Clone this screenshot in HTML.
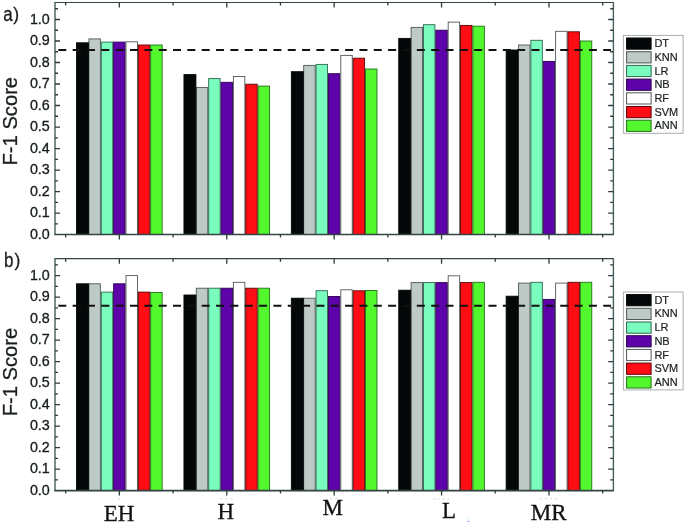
<!DOCTYPE html>
<html><head><meta charset="utf-8">
<style>
html,body{margin:0;padding:0;background:#fff;}
body{width:685px;height:524px;overflow:hidden;}
svg{display:block;will-change:transform;filter:blur(0.3px);}
text{font-family:"Liberation Sans",sans-serif;fill:#1a1f1f;}
.yl{font-size:14.3px;text-anchor:end;fill:#161c1c;stroke:#161c1c;stroke-width:0.32;}
.pl{font-size:19.5px;stroke:#1a1f1f;stroke-width:0.3;}
.pp{font-size:17.6px;stroke:#1a1f1f;stroke-width:0.3;}
.yt{font-size:20.8px;text-anchor:middle;stroke:#1a1f1f;stroke-width:0.3;}
.lg{font-size:11px;stroke:#1a1f1f;stroke-width:0.2;}
.xl{font-family:"Liberation Serif",serif;font-size:23px;text-anchor:middle;fill:#111;stroke:#111;stroke-width:0.3;}
</style></head><body>
<svg width="685" height="524" viewBox="0 0 685 524">
<rect x="88.91" y="38.9" width="11.46" height="195.65" fill="#bdcac6" stroke="#4d5856" stroke-width="0.9"/>
<rect x="101.27" y="42.1" width="11.46" height="192.45" fill="#7afcbe" stroke="#2f6650" stroke-width="0.9"/>
<rect x="113.63" y="42.1" width="11.46" height="192.45" fill="#5e02aa" stroke="#2a0250" stroke-width="0.9"/>
<rect x="125.99" y="41.8" width="11.46" height="192.75" fill="#ffffff" stroke="#4f5a58" stroke-width="0.9"/>
<rect x="138.35" y="45" width="11.46" height="189.55" fill="#fe0d14" stroke="#5a0406" stroke-width="0.9"/>
<rect x="150.71" y="45" width="11.46" height="189.55" fill="#52f72e" stroke="#237016" stroke-width="0.9"/>
<rect x="76.55" y="42.8" width="11.96" height="191.75" fill="#050808" stroke="#050808" stroke-width="0.9"/>
<rect x="196.31" y="87.4" width="11.46" height="147.15" fill="#bdcac6" stroke="#4d5856" stroke-width="0.9"/>
<rect x="208.67" y="78.6" width="11.46" height="155.95" fill="#7afcbe" stroke="#2f6650" stroke-width="0.9"/>
<rect x="221.03" y="82.3" width="11.46" height="152.25" fill="#5e02aa" stroke="#2a0250" stroke-width="0.9"/>
<rect x="233.39" y="76.5" width="11.46" height="158.05" fill="#ffffff" stroke="#4f5a58" stroke-width="0.9"/>
<rect x="245.75" y="84.2" width="11.46" height="150.35" fill="#fe0d14" stroke="#5a0406" stroke-width="0.9"/>
<rect x="258.11" y="86.1" width="11.46" height="148.45" fill="#52f72e" stroke="#237016" stroke-width="0.9"/>
<rect x="183.95" y="74.6" width="11.96" height="159.95" fill="#050808" stroke="#050808" stroke-width="0.9"/>
<rect x="303.71" y="65.4" width="11.46" height="169.15" fill="#bdcac6" stroke="#4d5856" stroke-width="0.9"/>
<rect x="316.07" y="64.4" width="11.46" height="170.15" fill="#7afcbe" stroke="#2f6650" stroke-width="0.9"/>
<rect x="328.43" y="73.7" width="11.46" height="160.85" fill="#5e02aa" stroke="#2a0250" stroke-width="0.9"/>
<rect x="340.79" y="55.4" width="11.46" height="179.15" fill="#ffffff" stroke="#4f5a58" stroke-width="0.9"/>
<rect x="353.15" y="58.2" width="11.46" height="176.35" fill="#fe0d14" stroke="#5a0406" stroke-width="0.9"/>
<rect x="365.51" y="69" width="11.46" height="165.55" fill="#52f72e" stroke="#237016" stroke-width="0.9"/>
<rect x="291.35" y="71.7" width="11.96" height="162.85" fill="#050808" stroke="#050808" stroke-width="0.9"/>
<rect x="411.11" y="27.4" width="11.46" height="207.15" fill="#bdcac6" stroke="#4d5856" stroke-width="0.9"/>
<rect x="423.47" y="24.7" width="11.46" height="209.85" fill="#7afcbe" stroke="#2f6650" stroke-width="0.9"/>
<rect x="435.83" y="30.2" width="11.46" height="204.35" fill="#5e02aa" stroke="#2a0250" stroke-width="0.9"/>
<rect x="448.19" y="22.1" width="11.46" height="212.45" fill="#ffffff" stroke="#4f5a58" stroke-width="0.9"/>
<rect x="460.55" y="25.4" width="11.46" height="209.15" fill="#fe0d14" stroke="#5a0406" stroke-width="0.9"/>
<rect x="472.91" y="26.2" width="11.46" height="208.35" fill="#52f72e" stroke="#237016" stroke-width="0.9"/>
<rect x="398.75" y="38.4" width="11.96" height="196.15" fill="#050808" stroke="#050808" stroke-width="0.9"/>
<rect x="518.51" y="45" width="11.46" height="189.55" fill="#bdcac6" stroke="#4d5856" stroke-width="0.9"/>
<rect x="530.87" y="40.3" width="11.46" height="194.25" fill="#7afcbe" stroke="#2f6650" stroke-width="0.9"/>
<rect x="543.23" y="61.4" width="11.46" height="173.15" fill="#5e02aa" stroke="#2a0250" stroke-width="0.9"/>
<rect x="555.59" y="31.3" width="11.46" height="203.25" fill="#ffffff" stroke="#4f5a58" stroke-width="0.9"/>
<rect x="567.95" y="31.8" width="11.46" height="202.75" fill="#fe0d14" stroke="#5a0406" stroke-width="0.9"/>
<rect x="580.31" y="41" width="11.46" height="193.55" fill="#52f72e" stroke="#237016" stroke-width="0.9"/>
<rect x="506.15" y="50" width="11.96" height="184.55" fill="#050808" stroke="#050808" stroke-width="0.9"/>
<line x1="58.3" y1="49.9" x2="611" y2="49.9" stroke="#111" stroke-width="2" stroke-dasharray="8 6.34"/>
<path d="M54.4 2.5H613.8" stroke="#344444" stroke-width="1.2" fill="none"/>
<path d="M54.2 234.55H614" stroke="#344444" stroke-width="1.6" fill="none"/>
<path d="M55 2.5V234.55 M613.4 2.5V234.55" stroke="#456060" stroke-width="1.4" fill="none"/>
<path d="M55 223.8h3M613.2 223.8h-3M55 213.05h5M613.2 213.05h-5M55 202.29h3M613.2 202.29h-3M55 191.54h5M613.2 191.54h-5M55 180.79h3M613.2 180.79h-3M55 170.03h5M613.2 170.03h-5M55 159.28h3M613.2 159.28h-3M55 148.53h5M613.2 148.53h-5M55 137.78h3M613.2 137.78h-3M55 127.03h5M613.2 127.03h-5M55 116.27h3M613.2 116.27h-3M55 105.52h5M613.2 105.52h-5M55 94.77h3M613.2 94.77h-3M55 84.01h5M613.2 84.01h-5M55 73.26h3M613.2 73.26h-3M55 62.51h5M613.2 62.51h-5M55 51.76h3M613.2 51.76h-3M55 41h5M613.2 41h-5M55 30.25h3M613.2 30.25h-3M55 19.5h5M613.2 19.5h-5M55 8.75h3M613.2 8.75h-3M119.36 2.5v5M119.36 234.55v5M226.76 2.5v5M226.76 234.55v5M334.16 2.5v5M334.16 234.55v5M441.56 2.5v5M441.56 234.55v5M548.96 2.5v5M548.96 234.55v5M65.66 2.5v3M65.66 234.55v3M173.06 2.5v3M173.06 234.55v3M280.46 2.5v3M280.46 234.55v3M387.86 2.5v3M387.86 234.55v3M495.26 2.5v3M495.26 234.55v3M602.66 2.5v3M602.66 234.55v3" stroke="#2c3c3c" stroke-width="1.3" fill="none"/>
<text x="49.8" y="238.55" class="yl">0.0</text>
<text x="49.8" y="217.05" class="yl">0.1</text>
<text x="49.8" y="195.54" class="yl">0.2</text>
<text x="49.8" y="174.03" class="yl">0.3</text>
<text x="49.8" y="152.53" class="yl">0.4</text>
<text x="49.8" y="131.03" class="yl">0.5</text>
<text x="49.8" y="109.52" class="yl">0.6</text>
<text x="49.8" y="88.01" class="yl">0.7</text>
<text x="49.8" y="66.51" class="yl">0.8</text>
<text x="49.8" y="45" class="yl">0.9</text>
<text x="49.8" y="23.5" class="yl">1.0</text>
<text transform="translate(3.3 20.6) scale(0.87 1)" class="pl">a</text>
<text x="13.3" y="19.8" class="pp">)</text>
<text transform="translate(17.1 121.2) rotate(-90) scale(0.97 1)" class="yt">F-1 Score</text>
<rect x="623.4" y="35.4" width="59.7" height="97.9" fill="#fff" stroke="#a9b0ae" stroke-width="1"/>
<rect x="626.6" y="38" width="24.5" height="11.2" fill="#050808" stroke="#050808" stroke-width="1"/>
<text x="654.4" y="47.1" class="lg">DT</text>
<rect x="626.6" y="51.7" width="24.5" height="11.2" fill="#bdcac6" stroke="#4d5856" stroke-width="1"/>
<text x="654.4" y="60.8" class="lg">KNN</text>
<rect x="626.6" y="65.4" width="24.5" height="11.2" fill="#7afcbe" stroke="#2f6650" stroke-width="1"/>
<text x="654.4" y="74.5" class="lg">LR</text>
<rect x="626.6" y="79.1" width="24.5" height="11.2" fill="#5e02aa" stroke="#2a0250" stroke-width="1"/>
<text x="654.4" y="88.2" class="lg">NB</text>
<rect x="626.6" y="92.8" width="24.5" height="11.2" fill="#ffffff" stroke="#4f5a58" stroke-width="1"/>
<text x="654.4" y="101.9" class="lg">RF</text>
<rect x="626.6" y="106.5" width="24.5" height="11.2" fill="#fe0d14" stroke="#5a0406" stroke-width="1"/>
<text x="654.4" y="115.6" class="lg">SVM</text>
<rect x="626.6" y="120.2" width="24.5" height="11.2" fill="#52f72e" stroke="#237016" stroke-width="1"/>
<text x="654.4" y="129.3" class="lg">ANN</text>
<rect x="88.91" y="283.8" width="11.46" height="206.8" fill="#bdcac6" stroke="#4d5856" stroke-width="0.9"/>
<rect x="101.27" y="292.1" width="11.46" height="198.5" fill="#7afcbe" stroke="#2f6650" stroke-width="0.9"/>
<rect x="113.63" y="283.8" width="11.46" height="206.8" fill="#5e02aa" stroke="#2a0250" stroke-width="0.9"/>
<rect x="125.99" y="275.6" width="11.46" height="215" fill="#ffffff" stroke="#4f5a58" stroke-width="0.9"/>
<rect x="138.35" y="292.1" width="11.46" height="198.5" fill="#fe0d14" stroke="#5a0406" stroke-width="0.9"/>
<rect x="150.71" y="292.5" width="11.46" height="198.1" fill="#52f72e" stroke="#237016" stroke-width="0.9"/>
<rect x="76.55" y="283.8" width="11.96" height="206.8" fill="#050808" stroke="#050808" stroke-width="0.9"/>
<rect x="196.31" y="288.2" width="11.46" height="202.4" fill="#bdcac6" stroke="#4d5856" stroke-width="0.9"/>
<rect x="208.67" y="288.2" width="11.46" height="202.4" fill="#7afcbe" stroke="#2f6650" stroke-width="0.9"/>
<rect x="221.03" y="288.2" width="11.46" height="202.4" fill="#5e02aa" stroke="#2a0250" stroke-width="0.9"/>
<rect x="233.39" y="282.3" width="11.46" height="208.3" fill="#ffffff" stroke="#4f5a58" stroke-width="0.9"/>
<rect x="245.75" y="288.2" width="11.46" height="202.4" fill="#fe0d14" stroke="#5a0406" stroke-width="0.9"/>
<rect x="258.11" y="288.2" width="11.46" height="202.4" fill="#52f72e" stroke="#237016" stroke-width="0.9"/>
<rect x="183.95" y="295" width="11.96" height="195.6" fill="#050808" stroke="#050808" stroke-width="0.9"/>
<rect x="303.71" y="298.2" width="11.46" height="192.4" fill="#bdcac6" stroke="#4d5856" stroke-width="0.9"/>
<rect x="316.07" y="290.7" width="11.46" height="199.9" fill="#7afcbe" stroke="#2f6650" stroke-width="0.9"/>
<rect x="328.43" y="296.5" width="11.46" height="194.1" fill="#5e02aa" stroke="#2a0250" stroke-width="0.9"/>
<rect x="340.79" y="289.8" width="11.46" height="200.8" fill="#ffffff" stroke="#4f5a58" stroke-width="0.9"/>
<rect x="353.15" y="290.8" width="11.46" height="199.8" fill="#fe0d14" stroke="#5a0406" stroke-width="0.9"/>
<rect x="365.51" y="290.5" width="11.46" height="200.1" fill="#52f72e" stroke="#237016" stroke-width="0.9"/>
<rect x="291.35" y="298.2" width="11.96" height="192.4" fill="#050808" stroke="#050808" stroke-width="0.9"/>
<rect x="411.11" y="282.6" width="11.46" height="208" fill="#bdcac6" stroke="#4d5856" stroke-width="0.9"/>
<rect x="423.47" y="282.6" width="11.46" height="208" fill="#7afcbe" stroke="#2f6650" stroke-width="0.9"/>
<rect x="435.83" y="282.6" width="11.46" height="208" fill="#5e02aa" stroke="#2a0250" stroke-width="0.9"/>
<rect x="448.19" y="275.8" width="11.46" height="214.8" fill="#ffffff" stroke="#4f5a58" stroke-width="0.9"/>
<rect x="460.55" y="282.6" width="11.46" height="208" fill="#fe0d14" stroke="#5a0406" stroke-width="0.9"/>
<rect x="472.91" y="282.3" width="11.46" height="208.3" fill="#52f72e" stroke="#237016" stroke-width="0.9"/>
<rect x="398.75" y="290.2" width="11.96" height="200.4" fill="#050808" stroke="#050808" stroke-width="0.9"/>
<rect x="518.51" y="283.1" width="11.46" height="207.5" fill="#bdcac6" stroke="#4d5856" stroke-width="0.9"/>
<rect x="530.87" y="282.3" width="11.46" height="208.3" fill="#7afcbe" stroke="#2f6650" stroke-width="0.9"/>
<rect x="543.23" y="299.4" width="11.46" height="191.2" fill="#5e02aa" stroke="#2a0250" stroke-width="0.9"/>
<rect x="555.59" y="283.1" width="11.46" height="207.5" fill="#ffffff" stroke="#4f5a58" stroke-width="0.9"/>
<rect x="567.95" y="282.3" width="11.46" height="208.3" fill="#fe0d14" stroke="#5a0406" stroke-width="0.9"/>
<rect x="580.31" y="282.3" width="11.46" height="208.3" fill="#52f72e" stroke="#237016" stroke-width="0.9"/>
<rect x="506.15" y="296.2" width="11.96" height="194.4" fill="#050808" stroke="#050808" stroke-width="0.9"/>
<line x1="58.3" y1="305.8" x2="611" y2="305.8" stroke="#111" stroke-width="2" stroke-dasharray="8 6.34"/>
<path d="M54.4 258.7H613.8" stroke="#344444" stroke-width="1.2" fill="none"/>
<path d="M54.2 490.6H614" stroke="#344444" stroke-width="1.6" fill="none"/>
<path d="M55 258.7V490.6 M613.4 258.7V490.6" stroke="#456060" stroke-width="1.4" fill="none"/>
<path d="M55 479.85h3M613.2 479.85h-3M55 469.1h5M613.2 469.1h-5M55 458.35h3M613.2 458.35h-3M55 447.6h5M613.2 447.6h-5M55 436.85h3M613.2 436.85h-3M55 426.1h5M613.2 426.1h-5M55 415.35h3M613.2 415.35h-3M55 404.6h5M613.2 404.6h-5M55 393.85h3M613.2 393.85h-3M55 383.1h5M613.2 383.1h-5M55 372.35h3M613.2 372.35h-3M55 361.6h5M613.2 361.6h-5M55 350.85h3M613.2 350.85h-3M55 340.1h5M613.2 340.1h-5M55 329.35h3M613.2 329.35h-3M55 318.6h5M613.2 318.6h-5M55 307.85h3M613.2 307.85h-3M55 297.1h5M613.2 297.1h-5M55 286.35h3M613.2 286.35h-3M55 275.6h5M613.2 275.6h-5M55 264.85h3M613.2 264.85h-3M119.36 258.7v5M119.36 490.6v5M226.76 258.7v5M226.76 490.6v5M334.16 258.7v5M334.16 490.6v5M441.56 258.7v5M441.56 490.6v5M548.96 258.7v5M548.96 490.6v5M65.66 258.7v3M65.66 490.6v3M173.06 258.7v3M173.06 490.6v3M280.46 258.7v3M280.46 490.6v3M387.86 258.7v3M387.86 490.6v3M495.26 258.7v3M495.26 490.6v3M602.66 258.7v3M602.66 490.6v3" stroke="#2c3c3c" stroke-width="1.3" fill="none"/>
<text x="49.8" y="494.6" class="yl">0.0</text>
<text x="49.8" y="473.1" class="yl">0.1</text>
<text x="49.8" y="451.6" class="yl">0.2</text>
<text x="49.8" y="430.1" class="yl">0.3</text>
<text x="49.8" y="408.6" class="yl">0.4</text>
<text x="49.8" y="387.1" class="yl">0.5</text>
<text x="49.8" y="365.6" class="yl">0.6</text>
<text x="49.8" y="344.1" class="yl">0.7</text>
<text x="49.8" y="322.6" class="yl">0.8</text>
<text x="49.8" y="301.1" class="yl">0.9</text>
<text x="49.8" y="279.6" class="yl">1.0</text>
<text transform="translate(3.9 266.6) scale(0.87 1)" class="pl">b</text>
<text x="14.4" y="265.8" class="pp">)</text>
<text transform="translate(17.1 372) rotate(-90) scale(0.97 1)" class="yt">F-1 Score</text>
<rect x="623.4" y="292" width="59.7" height="97.9" fill="#fff" stroke="#a9b0ae" stroke-width="1"/>
<rect x="626.6" y="294.6" width="24.5" height="11.2" fill="#050808" stroke="#050808" stroke-width="1"/>
<text x="654.4" y="303.7" class="lg">DT</text>
<rect x="626.6" y="308.3" width="24.5" height="11.2" fill="#bdcac6" stroke="#4d5856" stroke-width="1"/>
<text x="654.4" y="317.4" class="lg">KNN</text>
<rect x="626.6" y="322" width="24.5" height="11.2" fill="#7afcbe" stroke="#2f6650" stroke-width="1"/>
<text x="654.4" y="331.1" class="lg">LR</text>
<rect x="626.6" y="335.7" width="24.5" height="11.2" fill="#5e02aa" stroke="#2a0250" stroke-width="1"/>
<text x="654.4" y="344.8" class="lg">NB</text>
<rect x="626.6" y="349.4" width="24.5" height="11.2" fill="#ffffff" stroke="#4f5a58" stroke-width="1"/>
<text x="654.4" y="358.5" class="lg">RF</text>
<rect x="626.6" y="363.1" width="24.5" height="11.2" fill="#fe0d14" stroke="#5a0406" stroke-width="1"/>
<text x="654.4" y="372.2" class="lg">SVM</text>
<rect x="626.6" y="376.8" width="24.5" height="11.2" fill="#52f72e" stroke="#237016" stroke-width="1"/>
<text x="654.4" y="385.9" class="lg">ANN</text>
<text transform="translate(119 521.4) scale(1 1.04)" class="xl">EH</text>
<text transform="translate(225.9 519.2) scale(1 1.04)" class="xl">H</text>
<text transform="translate(332.6 515.1) scale(1 1.04)" class="xl">M</text>
<text transform="translate(449 518.1) scale(1 1.04)" class="xl">L</text>
<text transform="translate(548.6 520) scale(1 1.04)" class="xl">MR</text>
<rect x="220.7" y="498.2" width="1.6" height="1.2" fill="#d3d8d8"/>
<rect x="225.5" y="498.2" width="1.6" height="1.2" fill="#d3d8d8"/>
<rect x="230.8" y="498.2" width="1.6" height="1.2" fill="#d3d8d8"/>
<rect x="118.4" y="498.2" width="1.6" height="1.2" fill="#d3d8d8"/>
<rect x="330.4" y="498" width="1.6" height="1.2" fill="#d3d8d8"/>
<rect x="335.5" y="498" width="1.6" height="1.2" fill="#d3d8d8"/>
<rect x="433.9" y="498.4" width="1.6" height="1.2" fill="#d3d8d8"/>
<rect x="437.7" y="498.4" width="1.6" height="1.2" fill="#d3d8d8"/>
<rect x="442.7" y="498.4" width="1.6" height="1.2" fill="#d3d8d8"/>
<rect x="447.2" y="498.4" width="1.6" height="1.2" fill="#d3d8d8"/>
<rect x="540.2" y="498.1" width="1.6" height="1.2" fill="#d3d8d8"/>
<rect x="545.2" y="498.1" width="1.6" height="1.2" fill="#d3d8d8"/>
<rect x="550.2" y="498.1" width="1.6" height="1.2" fill="#d3d8d8"/>
<rect x="555.2" y="498.1" width="1.6" height="1.2" fill="#d3d8d8"/>
<rect x="467.3" y="517.6" width="1.9" height="3.4" fill="#e2fcfc"/>
<ellipse cx="468.6" cy="521.4" rx="1.2" ry="0.6" fill="#a9a9ff"/>
</svg>
</body></html>
